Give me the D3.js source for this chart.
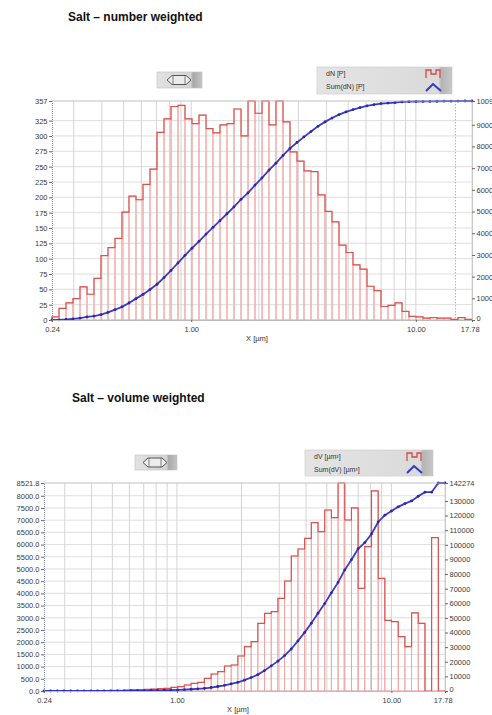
<!DOCTYPE html>
<html><head><meta charset="utf-8">
<script src="https://cdn.jsdelivr.net/npm/d3@7"></script>
<style>
html,body{margin:0;padding:0;background:#fff;}
svg{display:block;}
text{font-family:"Liberation Sans",Arial,sans-serif;}
</style></head><body>
<svg id="c" width="492" height="715"></svg>
<script>
// ---------- data ----------
const binEdges = [0.24, 0.2579, 0.2770, 0.2976, 0.3198, 0.3436, 0.3691, 0.3966, 0.4261, 0.4578, 0.4918, 0.5284, 0.5677, 0.6100, 0.6554, 0.7041, 0.7565, 0.8128, 0.8732, 0.9382, 1.008, 1.083, 1.164, 1.250, 1.343, 1.443, 1.550, 1.666, 1.790, 1.923, 2.066, 2.219, 2.384, 2.562, 2.752, 2.957, 3.177, 3.414, 3.667, 3.940, 4.233, 4.548, 4.887, 5.250, 5.641, 6.060, 6.511, 6.996, 7.516, 8.075, 8.676, 9.321, 10.01, 10.76, 11.56, 12.42, 13.34, 14.34, 15.40, 16.55, 17.78];

const dN = [5, 19, 28, 35, 54, 42, 68, 105, 118, 133, 176, 202, 196, 221, 246, 306, 328, 348, 350, 328, 320, 334, 312, 305, 318, 320, 344, 300, 357, 337, 357, 318, 357, 323, 274, 259, 243, 242, 204, 177, 160, 122, 110, 90, 83, 55, 48, 22, 24, 28, 14, 6, 5, 3, 4, 3, 3, 1, 4, 1];
const sumDN = [0, 5, 24, 52, 87, 141, 183, 251, 356, 474, 607, 783, 985, 1181, 1402, 1648, 1954, 2282, 2630, 2980, 3308, 3628, 3962, 4274, 4579, 4897, 5217, 5561, 5861, 6218, 6555, 6912, 7230, 7587, 7910, 8184, 8443, 8686, 8928, 9132, 9309, 9469, 9591, 9701, 9791, 9874, 9929, 9977, 9999, 10023, 10051, 10065, 10071, 10076, 10079, 10083, 10086, 10089, 10090, 10094, 10095];

const dV = [2, 3, 4, 5, 6, 8, 10, 12, 15, 18, 22, 28, 35, 45, 55, 65, 80, 94, 109, 150, 177, 246, 314, 355, 519, 696, 792, 1024, 1065, 1434, 1816, 2021, 2772, 3182, 3250, 3797, 4507, 5532, 5818, 6255, 6900, 6528, 7416, 7100, 8521.8, 7006, 7500, 4207, 5912, 8200, 4616, 2890, 2840, 2226, 1816, 3200, 2772, 0, 6285.2, 0];
const sumDV = [0, 2, 5, 9, 14, 20, 28, 38, 50, 65, 83, 105, 133, 168, 213, 268, 333, 413, 507, 616, 766, 943, 1189, 1503, 1858, 2377, 3073, 3865, 4889, 5954, 7388, 9204, 11225, 13997, 17179, 20429, 24226, 28733, 34265, 40083, 46338, 53238, 59766, 67182, 74282, 82803.8, 89809.8, 97309.8, 101516.8, 107428.8, 115628.8, 120244.8, 123134.8, 125974.8, 128200.8, 130016.8, 133216.8, 135988.8, 135988.8, 142274, 142274];

const xTickValues = [0.24, 1, 10, 17.78];
const xTickLabels = ["0.24", "1.00", "10.00", "17.78"];
const xGridValues = [0.3, 0.4, 0.5, 0.6, 0.7, 0.8, 0.9, 1, 2, 3, 4, 5, 6, 7, 8, 9, 10];

const nLeftTicks = [0, 25, 50, 75, 100, 125, 150, 175, 200, 225, 250, 275, 300, 325, 357];
const nRightTicks = [0, 1000, 2000, 3000, 4000, 5000, 6000, 7000, 8000, 9000, 10095];
const vLeftTicks = [0, 500, 1000, 1500, 2000, 2500, 3000, 3500, 4000, 4500, 5000, 5500, 6000, 6500, 7000, 7500, 8000, 8521.8];
const vRightTicks = [0, 10000, 20000, 30000, 40000, 50000, 60000, 70000, 80000, 90000, 100000, 110000, 120000, 130000, 142274];

const titles = ["Salt \u2013 number weighted", "Salt \u2013 volume weighted"];
const legendTop = ["dN [P]", "Sum(dN) [P]"];
const legendBottom = ["dV [\u00b5m\u00b3]", "Sum(dV) [\u00b5m\u00b3]"];
const xAxisTitle = "X [\u00b5m]";

// ---------- drawing ----------
const svg = d3.select("#c");
const defs = svg.append("defs");
const gBtn = defs.append("linearGradient").attr("id","btnGrad").attr("x1","0").attr("x2","1").attr("y1","0").attr("y2","0");
gBtn.append("stop").attr("offset","0").attr("stop-color","#e2e2e2");
gBtn.append("stop").attr("offset","0.75").attr("stop-color","#d4d4d4");
gBtn.append("stop").attr("offset","0.8").attr("stop-color","#a8a8a8");
gBtn.append("stop").attr("offset","1").attr("stop-color","#c4c4c4");
const gLeg = defs.append("linearGradient").attr("id","legGrad").attr("x1","0").attr("x2","1").attr("y1","0").attr("y2","0");
gLeg.append("stop").attr("offset","0").attr("stop-color","#e4e4e4");
gLeg.append("stop").attr("offset","0.9").attr("stop-color","#dadada");
gLeg.append("stop").attr("offset","0.92").attr("stop-color","#b4b4b4");
gLeg.append("stop").attr("offset","1").attr("stop-color","#c8c8c8");

function drawButton(bx, by, bw, bh, cx) {
  const g = svg.append("g");
  g.append("rect").attr("x",bx).attr("y",by).attr("width",bw).attr("height",bh)
    .attr("fill","url(#btnGrad)").attr("stroke","#c0c0c0").attr("stroke-width",0.6);
  const cy = by + bh/2;
  const p = `M${cx-12},${cy} L${cx-7},${cy-4.5} L${cx+7},${cy-4.5} L${cx+12},${cy} L${cx+7},${cy+4.5} L${cx-7},${cy+4.5} Z`;
  g.append("path").attr("d",p).attr("fill","#ececec").attr("stroke","#555").attr("stroke-width",1);
  g.append("line").attr("x1",cx-6).attr("x2",cx-6).attr("y1",cy-4.5).attr("y2",cy+4.5).attr("stroke","#666").attr("stroke-width",0.8);
  g.append("line").attr("x1",cx+6).attr("x2",cx+6).attr("y1",cy-4.5).attr("y2",cy+4.5).attr("stroke","#666").attr("stroke-width",0.8);
}

function drawLegend(lx, ly, lw, lh, labels, iconX) {
  const g = svg.append("g");
  g.append("rect").attr("x",lx).attr("y",ly).attr("width",lw).attr("height",lh)
    .attr("fill","url(#legGrad)").attr("stroke","#c8c8c8").attr("stroke-width",0.6);
  g.selectAll("text").data(labels).join("text")
    .attr("x", lx + 9).attr("y", (d,i) => ly + 9 + i*13)
    .attr("font-size", 7).attr("fill", "#333").text(d => d);
  const y1 = ly + 3, y2 = ly + 11;
  g.append("path").attr("d", `M${iconX},${y2} V${y1} H${iconX+5} V${y1+4} H${iconX+10} V${y1} H${iconX+14} V${y2}`)
    .attr("fill","none").attr("stroke","#d84848").attr("stroke-width",1.3);
  const b1 = ly + lh - 3, b0 = ly + lh - 10;
  g.append("path").attr("d", `M${iconX},${b1} L${iconX+7},${b0} L${iconX+15},${b1}`)
    .attr("fill","none").attr("stroke","#3535c8").attr("stroke-width",2);
}

function drawChart(cfg) {
  const g = svg.append("g");
  const x = d3.scaleLog().domain([binEdges[0], binEdges[binEdges.length-1]]).range([cfg.x0, cfg.x1]);
  const y = d3.scaleLinear().domain([0, cfg.yMax]).range([cfg.y0, cfg.y1]);
  const yR = d3.scaleLinear().domain([0, cfg.yRMax]).range([cfg.y0, cfg.y1]);

  g.append("g").selectAll("line").data(cfg.leftTicks).join("line")
    .attr("x1", cfg.x0).attr("x2", cfg.x1).attr("y1", d => y(d)).attr("y2", d => y(d))
    .attr("stroke", "#d6d6d6").attr("stroke-width", 0.8);
  g.append("g").selectAll("line").data(xGridValues).join("line")
    .attr("x1", d => x(d)).attr("x2", d => x(d)).attr("y1", cfg.y1).attr("y2", cfg.y0)
    .attr("stroke", "#cfcfcf").attr("stroke-width", 0.9);
  g.append("line").attr("x1", cfg.x1).attr("x2", cfg.x1).attr("y1", cfg.y1).attr("y2", cfg.y0)
    .attr("stroke", "#d0d0d0").attr("stroke-width", 0.8);

  if (cfg.cursor) {
    g.append("line").attr("x1", x(cfg.cursor)).attr("x2", x(cfg.cursor)).attr("y1", cfg.y1).attr("y2", cfg.y0)
      .attr("stroke", "#e89a9a").attr("stroke-width", 1).attr("stroke-dasharray", "1.5,1.5");
  }

  const bins = cfg.values.map((v, i) => ({ a: binEdges[i], b: binEdges[i+1], v }));
  g.append("g").selectAll("rect").data(bins).join("rect")
    .attr("x", d => x(d.a)).attr("width", d => x(d.b) - x(d.a))
    .attr("y", d => y(d.v)).attr("height", d => y(0) - y(d.v))
    .attr("fill", "none").attr("stroke", "#f0a4a4").attr("stroke-width", 0.9);
  const pts = [[binEdges[0], 0]].concat(cfg.values.map((v, i) => [binEdges[i], v]));
  pts.push([binEdges[binEdges.length-1], cfg.values[cfg.values.length-1]]);
  pts.push([binEdges[binEdges.length-1], 0]);
  const step = d3.line().x(d => x(d[0])).y(d => y(d[1])).curve(d3.curveStepAfter);
  g.append("path").attr("d", step(pts)).attr("fill", "none").attr("stroke", "#d9534f").attr("stroke-width", 1.2);

  const cum = cfg.cumulative.map((v, i) => [binEdges[i], v]);
  const line = d3.line().x(d => x(d[0])).y(d => yR(d[1]));
  g.append("path").attr("d", line(cum)).attr("fill", "none").attr("stroke", "#3a3acc").attr("stroke-width", 1.8);
  g.append("g").selectAll("circle").data(cum).join("circle")
    .attr("cx", d => x(d[0])).attr("cy", d => yR(d[1])).attr("r", 1.4).attr("fill", "#2828a0");

  const left = g.append("g").attr("transform", `translate(${cfg.x0},0)`)
    .call(d3.axisLeft(y).tickValues(cfg.leftTicks).tickFormat(cfg.leftFmt).tickSize(3).tickPadding(1.5));
  left.select(".domain").attr("stroke", "#7d86a8").attr("stroke-dasharray", "1,1");
  const right = g.append("g").attr("transform", `translate(${cfg.x1},0)`)
    .call(d3.axisRight(yR).tickValues(cfg.rightTicks).tickFormat(d3.format("d")).tickSize(3).tickPadding(1.5));
  right.select(".domain").attr("stroke", "#c8c8c8");
  // keep the baseline label of the right axis clear of the last x label
  right.selectAll(".tick").filter(d => d === 0).select("text").attr("dy", "0.1em");
  const bottom = g.append("g").attr("transform", `translate(0,${cfg.y0})`)
    .call(d3.axisBottom(x).tickValues(xTickValues).tickFormat((d, i) => xTickLabels[i]).tickSize(2).tickPadding(4.5));
  bottom.select(".domain").attr("stroke", "#bbbbbb");
  bottom.selectAll(".tick").filter((d, i) => i === xTickValues.length - 1).select("text").attr("dx", "-0.3em");
  [left, right, bottom].forEach(a => {
    a.selectAll("text").attr("font-size", cfg.fs).attr("fill", "#3a3a3a").attr("font-family", "Liberation Sans, Arial, sans-serif");
    a.selectAll(".tick line").attr("stroke", "#666");
  });
  g.append("line").attr("x1", cfg.x0).attr("x2", cfg.x1).attr("y1", cfg.y1).attr("y2", cfg.y1)
    .attr("stroke", "#c8c8c8").attr("stroke-width", 0.8);

  g.append("text").attr("x", cfg.xTitleX).attr("y", cfg.y0 + 21).attr("text-anchor", "middle")
    .attr("font-size", cfg.fs).attr("fill", "#333").text(xAxisTitle);
}

svg.append("text").attr("x", 68).attr("y", 21).attr("font-size", 12).attr("font-weight", "bold").attr("fill", "#111").text(titles[0]);
svg.append("text").attr("x", 72).attr("y", 402).attr("font-size", 12).attr("font-weight", "bold").attr("fill", "#111").text(titles[1]);

drawButton(157, 72, 45, 16, 179);
drawButton(135, 455, 42, 15, 155);
drawLegend(317, 67, 135, 27, legendTop, 426);
drawLegend(305, 450, 128, 26, legendBottom, 407);

drawChart({
  x0: 52, x1: 472, y0: 320, y1: 101,
  yMax: 357, yRMax: 10095,
  values: dN, cumulative: sumDN,
  leftTicks: nLeftTicks, rightTicks: nRightTicks,
  leftFmt: d3.format("d"), fs: 7.5, cursor: 15, xTitleX: 257
});
drawChart({
  x0: 44, x1: 445, y0: 691, y1: 483,
  yMax: 8521.8, yRMax: 142274,
  values: dV, cumulative: sumDV,
  leftTicks: vLeftTicks, rightTicks: vRightTicks,
  leftFmt: d3.format(".1f"), fs: 7.5, cursor: null, xTitleX: 238
});
</script>
</body></html>
